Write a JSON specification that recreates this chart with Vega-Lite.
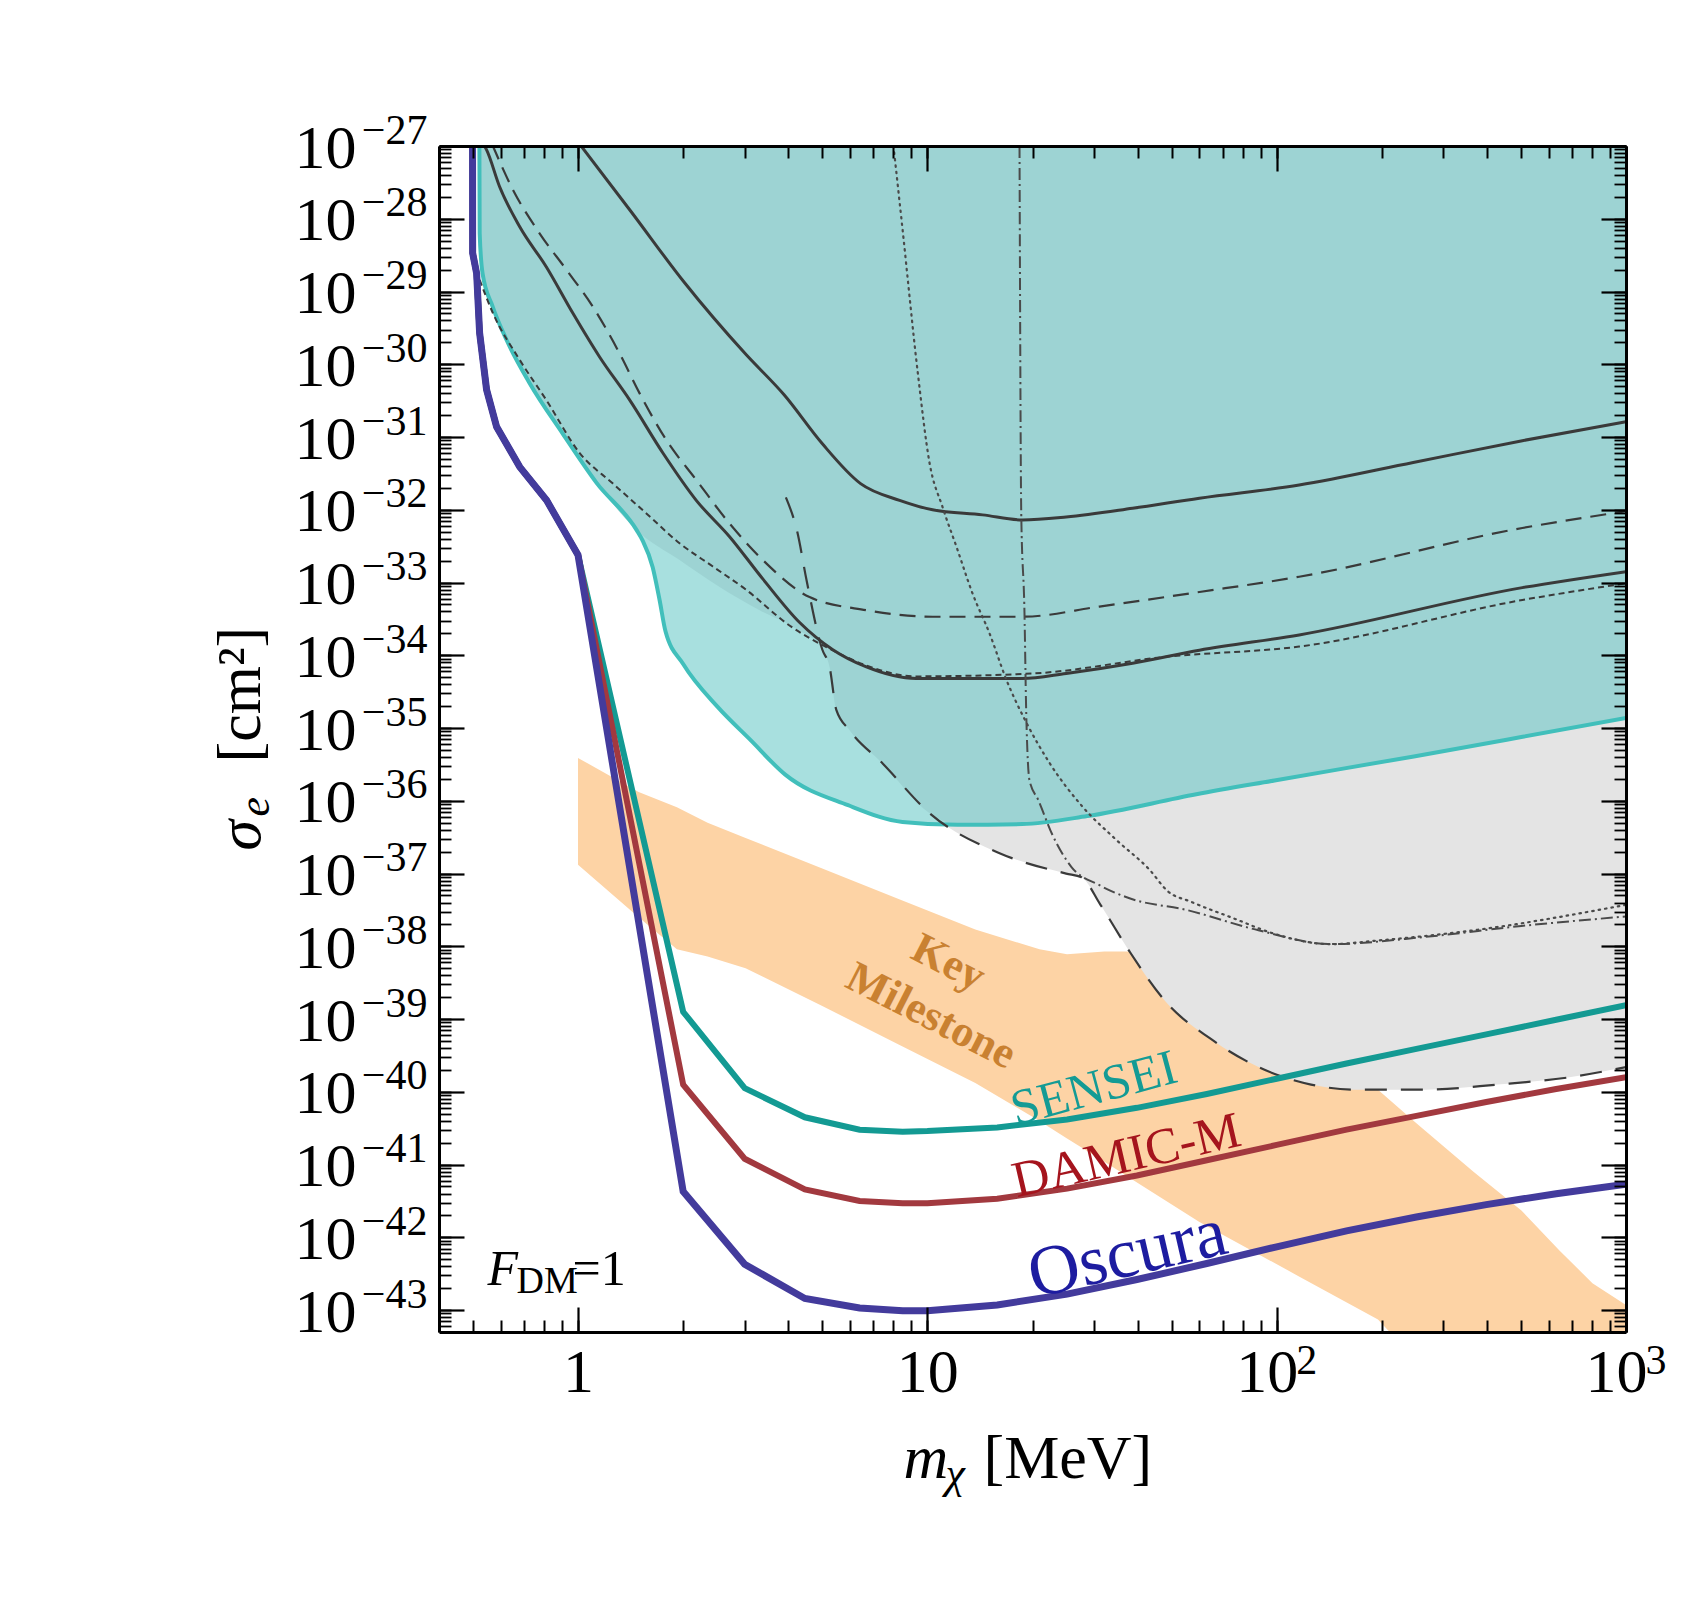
{
"$schema":"https://vega.github.io/schema/vega-lite/v6.json",
"width":1187,"height":1186,
"autosize":{"type":"none"},
"padding":{"left":439,"top":146,"right":80,"bottom":280},
"background":"#ffffff",
"config":{"view":{"stroke":null},"axis":{"grid":false,"labelFont":"Liberation Serif","titleFont":"Liberation Serif","labelColor":"#000000","titleColor":"#000000","tickColor":"#000000","domainColor":"#000000","titleFontWeight":"normal","labelFlush":false,"labelOverlap":false}},
"resolve":{"axis":{"x":"independent","y":"independent"}},
"datasets":{
"band":[{"m":1.0,"lo":1.318e-37,"hi":3.89e-36},{"m":1.491,"lo":2.512e-38,"hi":1.318e-36},{"m":1.919,"lo":9.12e-39,"hi":8.128e-37},{"m":2.349,"lo":7.244e-39,"hi":5.012e-37},{"m":3.018,"lo":5.012e-39,"hi":3.09e-37},{"m":5.003,"lo":1.514e-39,"hi":1.175e-37},{"m":8.274,"lo":4.467e-40,"hi":4.467e-38},{"m":13.72,"lo":1.318e-40,"hi":1.698e-38},{"m":20.95,"lo":3.981e-41,"hi":9.12e-39},{"m":25.11,"lo":2.291e-41,"hi":7.762e-39},{"m":32.15,"lo":1.096e-41,"hi":8.511e-39},{"m":37.9,"lo":6.607e-42,"hi":8.511e-39},{"m":60.1,"lo":1.622e-42,"hi":2.455e-39},{"m":116.2,"lo":2.884e-43,"hi":4.169e-40},{"m":195.0,"lo":7.413e-44,"hi":1.072e-40},{"m":250.7,"lo":2.042e-44,"hi":3.715e-41},{"m":365.9,"lo":3.162e-45,"hi":7.943e-42},{"m":501.9,"lo":1e-45,"hi":2.344e-42},{"m":644.9,"lo":1e-45,"hi":6.607e-43},{"m":801.5,"lo":1e-45,"hi":2.344e-43},{"m":1000,"lo":1e-45,"hi":1.175e-43}],
"cyan":[{"m":0.522,"sigma":1e-27},{"m":0.523,"sigma":6.31e-29},{"m":0.533,"sigma":1.778e-29},{"m":0.57,"sigma":6.166e-30},{"m":0.625,"sigma":2.138e-30},{"m":0.727,"sigma":5.495e-31},{"m":0.903,"sigma":1.122e-31},{"m":1.13,"sigma":2.344e-32},{"m":1.472,"sigma":5.248e-33},{"m":1.53,"sigma":3.802e-33},{"m":1.636,"sigma":1.622e-33},{"m":1.712,"sigma":5.754e-34},{"m":1.78,"sigma":2.138e-34},{"m":2.0,"sigma":7.586e-35},{"m":2.51,"sigma":1.95e-35},{"m":3.11,"sigma":6.918e-36},{"m":3.92,"sigma":2.291e-36},{"m":5.93,"sigma":8.71e-37},{"m":8.49,"sigma":5.129e-37},{"m":12.2,"sigma":4.677e-37},{"m":18.7,"sigma":4.786e-37},{"m":28.7,"sigma":6.166e-37},{"m":58.9,"sigma":1.23e-36},{"m":98.6,"sigma":1.905e-36},{"m":247,"sigma":4.074e-36},{"m":506,"sigma":7.586e-36},{"m":1000,"sigma":1.38e-35}],
"dark":[{"m":0.523,"sigma":6.31e-29},{"m":0.533,"sigma":1.778e-29},{"m":0.57,"sigma":6.166e-30},{"m":0.625,"sigma":2.138e-30},{"m":0.727,"sigma":5.495e-31},{"m":0.903,"sigma":1.122e-31},{"m":1.13,"sigma":2.344e-32},{"m":1.472,"sigma":5.248e-33},{"m":1.953,"sigma":2.042e-33},{"m":2.543,"sigma":8.71e-34},{"m":3.31,"sigma":4.169e-34},{"m":4.196,"sigma":2.344e-34},{"m":5.003,"sigma":1.202e-34},{"m":5.25,"sigma":6.918e-35},{"m":5.488,"sigma":1.778e-35},{"m":5.99,"sigma":9.333e-36},{"m":7.46,"sigma":3.236e-36},{"m":10.15,"sigma":6.761e-37},{"m":12.2,"sigma":4.677e-37},{"m":18.7,"sigma":4.786e-37},{"m":28.7,"sigma":6.166e-37},{"m":58.9,"sigma":1.23e-36},{"m":98.6,"sigma":1.905e-36},{"m":247,"sigma":4.074e-36},{"m":506,"sigma":7.586e-36},{"m":1000,"sigma":1.38e-35}],
"l1":[{"m":0.985,"sigma":1.25e-27},{"m":1.418,"sigma":1.259e-28},{"m":2.019,"sigma":1.318e-29},{"m":3.018,"sigma":1.38e-30},{"m":3.89,"sigma":3.802e-31},{"m":5.0,"sigma":8.128e-32},{"m":6.44,"sigma":2.291e-32},{"m":8.33,"sigma":1.349e-32},{"m":10.35,"sigma":1e-32},{"m":14.39,"sigma":8.511e-33},{"m":18.72,"sigma":7.244e-33},{"m":24.97,"sigma":7.943e-33},{"m":38.7,"sigma":1.047e-32},{"m":60.1,"sigma":1.445e-32},{"m":116,"sigma":2.188e-32},{"m":246,"sigma":4.467e-32},{"m":505,"sigma":8.913e-32},{"m":1000,"sigma":1.622e-31}],
"l2":[{"m":0.54,"sigma":1e-27},{"m":0.547,"sigma":8.913e-28},{"m":0.5965,"sigma":2.754e-28},{"m":0.681,"sigma":7.762e-29},{"m":0.811,"sigma":2.188e-29},{"m":0.967,"sigma":5.012e-30},{"m":1.153,"sigma":1.259e-30},{"m":1.405,"sigma":3.236e-31},{"m":1.75,"sigma":6.026e-32},{"m":2.18,"sigma":1.349e-32},{"m":2.716,"sigma":4.266e-33},{"m":3.38,"sigma":1.122e-33},{"m":4.31,"sigma":2.818e-34},{"m":5.35,"sigma":1.202e-34},{"m":6.69,"sigma":6.918e-35},{"m":9.29,"sigma":4.786e-35},{"m":18.73,"sigma":4.786e-35},{"m":24.97,"sigma":5.623e-35},{"m":38.7,"sigma":7.762e-35},{"m":60.1,"sigma":1.175e-34},{"m":116,"sigma":1.905e-34},{"m":505,"sigma":8.511e-34},{"m":1000,"sigma":1.413e-33}],
"l3":[{"m":0.568,"sigma":1.05e-27},{"m":0.651,"sigma":2.512e-28},{"m":0.776,"sigma":6.31e-29},{"m":0.926,"sigma":1.995e-29},{"m":1.103,"sigma":6.166e-30},{"m":1.315,"sigma":1.413e-30},{"m":1.501,"sigma":3.981e-31},{"m":1.789,"sigma":9.12e-32},{"m":2.181,"sigma":2.57e-32},{"m":2.716,"sigma":6.457e-33},{"m":3.38,"sigma":2.042e-33},{"m":4.6,"sigma":6.31e-34},{"m":6.69,"sigma":4.169e-34},{"m":10.35,"sigma":3.388e-34},{"m":18.73,"sigma":3.388e-34},{"m":31.1,"sigma":4.677e-34},{"m":60.1,"sigma":7.413e-34},{"m":116,"sigma":1.202e-33},{"m":505,"sigma":5.623e-33},{"m":1000,"sigma":9.55e-33}],
"l4":[{"m":0.523,"sigma":1.445e-29},{"m":0.571,"sigma":5.012e-30},{"m":0.681,"sigma":1.148e-30},{"m":0.811,"sigma":3.236e-31},{"m":1.011,"sigma":6.026e-32},{"m":1.259,"sigma":2.291e-32},{"m":1.569,"sigma":8.913e-33},{"m":1.953,"sigma":3.467e-33},{"m":2.433,"sigma":1.66e-33},{"m":3.03,"sigma":7.943e-34},{"m":4.03,"sigma":2.57e-34},{"m":5.35,"sigma":1.175e-34},{"m":6.69,"sigma":7.244e-35},{"m":9.29,"sigma":5.129e-35},{"m":20.0,"sigma":5.623e-35},{"m":48.3,"sigma":9.55e-35},{"m":116,"sigma":1.318e-34},{"m":505,"sigma":5.754e-34},{"m":1000,"sigma":9.772e-34}],
"l5":[{"m":8.0,"sigma":1e-27},{"m":8.49,"sigma":7.244e-29},{"m":9.37,"sigma":8.318e-31},{"m":10.15,"sigma":4.365e-32},{"m":11.05,"sigma":1.096e-32},{"m":12.12,"sigma":3.09e-33},{"m":13.47,"sigma":7.079e-34},{"m":15.07,"sigma":1.995e-34},{"m":16.85,"sigma":4.571e-35},{"m":19.23,"sigma":1.175e-35},{"m":22.38,"sigma":3.311e-36},{"m":27.8,"sigma":8.318e-37},{"m":34.8,"sigma":2.884e-37},{"m":43.3,"sigma":1.122e-37},{"m":48.7,"sigma":5.754e-38},{"m":57.0,"sigma":4.074e-38},{"m":75.7,"sigma":2.399e-38},{"m":97.3,"sigma":1.514e-38},{"m":142.6,"sigma":1.072e-38},{"m":195,"sigma":1.202e-38},{"m":366,"sigma":1.66e-38},{"m":1000,"sigma":3.715e-38}],
"l6":[{"m":18.36,"sigma":1e-27},{"m":18.57,"sigma":8.913e-33},{"m":18.97,"sigma":3.802e-34},{"m":19.19,"sigma":1.622e-35},{"m":19.61,"sigma":1.905e-36},{"m":20.78,"sigma":1.023e-36},{"m":22.82,"sigma":3.388e-37},{"m":25.86,"sigma":1.23e-37},{"m":31.1,"sigma":6.918e-38},{"m":37.9,"sigma":4.571e-38},{"m":55.2,"sigma":3.162e-38},{"m":88.7,"sigma":1.66e-38},{"m":142.6,"sigma":1.072e-38},{"m":267,"sigma":1.349e-38},{"m":502,"sigma":1.905e-38},{"m":1000,"sigma":2.57e-38}],
"l7":[{"m":3.936,"sigma":1.479e-32},{"m":4.246,"sigma":4.898e-33},{"m":4.511,"sigma":1.072e-33},{"m":5.003,"sigma":1.202e-34},{"m":5.25,"sigma":6.918e-35},{"m":5.488,"sigma":1.778e-35},{"m":5.99,"sigma":9.333e-36},{"m":7.46,"sigma":3.236e-36},{"m":10.15,"sigma":6.761e-37},{"m":16.1,"sigma":1.905e-37},{"m":24.97,"sigma":1e-37},{"m":27.63,"sigma":8.913e-38},{"m":31.31,"sigma":3.715e-38},{"m":37.9,"sigma":8.511e-39},{"m":48.7,"sigma":1.622e-39},{"m":64.65,"sigma":5.37e-40},{"m":88.7,"sigma":2.188e-40},{"m":125.4,"sigma":1.259e-40},{"m":166.4,"sigma":1.072e-40},{"m":266.7,"sigma":1.072e-40},{"m":428.6,"sigma":1.259e-40},{"m":688.7,"sigma":1.585e-40},{"m":1000,"sigma":2.188e-40}],
"sensei":[{"m":0.499,"sigma":1.5e-27},{"m":0.4993,"sigma":3.388e-29},{"m":0.5126,"sigma":1.778e-29},{"m":0.5228,"sigma":2.692e-30},{"m":0.5474,"sigma":4.467e-31},{"m":0.5848,"sigma":1.38e-31},{"m":0.6807,"sigma":3.89e-32},{"m":0.813,"sigma":1.349e-32},{"m":1.0,"sigma":2.399e-33},{"m":2.0,"sigma":1.259e-39},{"m":3.0,"sigma":1.122e-40},{"m":4.46,"sigma":4.467e-41},{"m":6.4,"sigma":3.02e-41},{"m":8.5,"sigma":2.818e-41},{"m":10.0,"sigma":2.884e-41},{"m":15.85,"sigma":3.236e-41},{"m":25.12,"sigma":4.169e-41},{"m":39.81,"sigma":6.026e-41},{"m":63.1,"sigma":9.333e-41},{"m":100,"sigma":1.514e-40},{"m":158.5,"sigma":2.455e-40},{"m":251.2,"sigma":3.89e-40},{"m":398.1,"sigma":6.166e-40},{"m":631,"sigma":9.772e-40},{"m":1000,"sigma":1.549e-39}],
"damic":[{"m":0.499,"sigma":1.5e-27},{"m":0.4993,"sigma":3.388e-29},{"m":0.5126,"sigma":1.778e-29},{"m":0.5228,"sigma":2.692e-30},{"m":0.5474,"sigma":4.467e-31},{"m":0.5848,"sigma":1.38e-31},{"m":0.6807,"sigma":3.89e-32},{"m":0.813,"sigma":1.349e-32},{"m":1.0,"sigma":2.399e-33},{"m":2.0,"sigma":1.259e-40},{"m":3.0,"sigma":1.202e-41},{"m":4.46,"sigma":4.571e-42},{"m":6.4,"sigma":3.162e-42},{"m":8.5,"sigma":2.951e-42},{"m":10.0,"sigma":2.951e-42},{"m":15.85,"sigma":3.388e-42},{"m":25.12,"sigma":4.677e-42},{"m":39.81,"sigma":7.079e-42},{"m":63.1,"sigma":1.148e-41},{"m":100,"sigma":1.862e-41},{"m":158.5,"sigma":3.02e-41},{"m":251.2,"sigma":4.677e-41},{"m":398.1,"sigma":7.244e-41},{"m":631,"sigma":1.096e-40},{"m":1000,"sigma":1.585e-40}],
"oscura":[{"m":0.499,"sigma":1.5e-27},{"m":0.4993,"sigma":3.388e-29},{"m":0.5126,"sigma":1.778e-29},{"m":0.5228,"sigma":2.692e-30},{"m":0.5474,"sigma":4.467e-31},{"m":0.5848,"sigma":1.38e-31},{"m":0.6807,"sigma":3.89e-32},{"m":0.813,"sigma":1.349e-32},{"m":1.0,"sigma":2.399e-33},{"m":2.0,"sigma":4.266e-42},{"m":3.0,"sigma":4.266e-43},{"m":4.46,"sigma":1.445e-43},{"m":6.4,"sigma":1.072e-43},{"m":8.5,"sigma":9.772e-44},{"m":10.0,"sigma":9.772e-44},{"m":15.85,"sigma":1.175e-43},{"m":25.12,"sigma":1.66e-43},{"m":39.81,"sigma":2.63e-43},{"m":63.1,"sigma":4.365e-43},{"m":100,"sigma":7.413e-43},{"m":158.5,"sigma":1.23e-42},{"m":251.2,"sigma":1.905e-42},{"m":398.1,"sigma":2.818e-42},{"m":631,"sigma":3.981e-42},{"m":1000,"sigma":5.37e-42}]
},
"layer":[
{"data":{"name":"band"},"mark":{"type":"area","color":"#fdd3a5","clip":true,"interpolate":"linear"},
"encoding":{"x":{"field":"m","type":"quantitative","scale":{"type":"log","domain":[0.4,1000],"nice":false},
"axis":{"orient":"bottom","values":[1,10],"labelExpr":"datum.value == 1 ? '1' : '10'","ticks":false,"domain":false,"labelFontSize":62,"labelPadding":10,"labelAngle":0,"labelAlign":"center","labelBaseline":"top","title":"m","titleFontSize":62,"titleFontStyle":"italic","titleX":464,"titleY":145,"titleAlign":"left","titleBaseline":"alphabetic","titleAngle":0,"zindex":1}},
"y":{"field":"lo","type":"quantitative","scale":{"type":"log","domain":[5e-44,1e-27],"nice":false},
"axis":{"orient":"left","values":[1e-27,1e-28,1e-29,1e-30,1e-31,1e-32,1e-33,1e-34,1e-35,1e-36,1e-37,1e-38,1e-39,1e-40,1e-41,1e-42,1e-43],"labelExpr":"'10'","ticks":false,"domain":false,"labelFontSize":62,"labelPadding":83,"labelAlign":"right","labelBaseline":"middle","labelOffset":2,"title":"σ","titleFontSize":62,"titleFontStyle":"italic","titleAngle":270,"titleX":-180,"titleY":704,"titleAlign":"left","titleBaseline":"alphabetic","zindex":1}},
"y2":{"field":"hi"}}},
{"data":{"name":"l7"},"mark":{"type":"area","color":"#e4e4e4","clip":true,"interpolate":"monotone"},
"encoding":{"x":{"field":"m","type":"quantitative","scale":{"type":"log","domain":[0.4,1000],"nice":false},
"axis":{"orient":"bottom","values":[100,1000],"labelExpr":"'10'","ticks":false,"domain":false,"labelFontSize":62,"labelPadding":10,"labelAngle":0,"labelAlign":"center","labelBaseline":"top","labelOffset":-10,"title":"[MeV]","titleFontSize":62,"titleX":544,"titleY":145,"titleAlign":"left","titleBaseline":"alphabetic","titleAngle":0,"zindex":1}},
"y":{"field":"sigma","type":"quantitative","scale":{"type":"log","domain":[5e-44,1e-27],"nice":false},
"axis":{"orient":"left","values":[1e-27,1e-28,1e-29,1e-30,1e-31,1e-32,1e-33,1e-34,1e-35,1e-36,1e-37,1e-38,1e-39,1e-40,1e-41,1e-42,1e-43],"labelExpr":"'−' + round(-log(datum.value)/LN10)","ticks":false,"domain":false,"labelFontSize":42,"labelPadding":12,"labelAlign":"right","labelBaseline":"middle","labelOffset":-16,"title":"e","titleFontSize":44,"titleFontStyle":"italic","titleAngle":270,"titleX":-171,"titleY":670,"titleAlign":"left","titleBaseline":"alphabetic","zindex":1}},
"y2":{"datum":1e-27}}},
{"data":{"name":"cyan"},"mark":{"type":"area","color":"#a8e0df","clip":true,"interpolate":"monotone"},
"encoding":{"x":{"field":"m","type":"quantitative","scale":{"type":"log","domain":[0.4,1000],"nice":false},
"axis":{"orient":"bottom","values":[100,1000],"labelExpr":"datum.value > 500 ? '3' : '2'","ticks":false,"domain":false,"labelFontSize":42,"labelPadding":8,"labelAngle":0,"labelAlign":"left","labelBaseline":"top","labelOffset":19,"title":"χ","titleFontSize":44,"titleFontStyle":"italic","titleX":506,"titleY":155,"titleAlign":"left","titleBaseline":"alphabetic","titleAngle":0,"zindex":1}},
"y":{"field":"sigma","type":"quantitative","scale":{"type":"log","domain":[5e-44,1e-27],"nice":false},
"axis":{"orient":"left","values":[1e-27,1e-28,1e-29,1e-30,1e-31,1e-32,1e-33,1e-34,1e-35,1e-36,1e-37,1e-38,1e-39,1e-40,1e-41,1e-42,1e-43],"labels":false,"tickSize":-25,"tickWidth":2.2,"domain":true,"domainWidth":3,"title":"[cm²]","titleFontSize":62,"titleAngle":270,"titleX":-180,"titleY":616,"titleAlign":"left","titleBaseline":"alphabetic","zindex":2}},
"y2":{"datum":1e-27}}},
{"data":{"name":"dark"},"mark":{"type":"area","color":"#9dd3d3","clip":true,"interpolate":"monotone"},
"encoding":{"x":{"field":"m","type":"quantitative","scale":{"type":"log","domain":[0.4,1000],"nice":false},
"axis":{"orient":"bottom","values":[1,10,100,1000],"labels":false,"tickSize":-25,"tickWidth":2.2,"domain":true,"domainWidth":3,"title":null,"zindex":2}},
"y":{"field":"sigma","type":"quantitative","scale":{"type":"log","domain":[5e-44,1e-27],"nice":false},
"axis":{"orient":"left","tickCount":60,"labels":false,"tickSize":-12,"tickWidth":1.8,"domain":false,"title":null,"zindex":2}},
"y2":{"datum":1e-27}}},
{"data":{"name":"cyan"},"mark":{"type":"line","color":"#41bfbb","strokeWidth":4,"clip":true,"interpolate":"monotone"},
"encoding":{"x":{"field":"m","type":"quantitative","scale":{"type":"log","domain":[0.4,1000],"nice":false},
"axis":{"orient":"bottom","tickCount":50,"labels":false,"tickSize":-12,"tickWidth":2,"domain":false,"title":null,"zindex":2}},
"y":{"field":"sigma","type":"quantitative","scale":{"type":"log","domain":[5e-44,1e-27],"nice":false},
"axis":{"orient":"right","values":[1e-27,1e-28,1e-29,1e-30,1e-31,1e-32,1e-33,1e-34,1e-35,1e-36,1e-37,1e-38,1e-39,1e-40,1e-41,1e-42,1e-43],"labels":false,"tickSize":-25,"tickWidth":2.2,"domain":true,"domainWidth":3,"title":null,"zindex":2}}}},
{"data":{"name":"l1"},"mark":{"type":"line","color":"#3a3a3a","strokeWidth":3,"clip":true,"interpolate":"monotone"},
"encoding":{"x":{"field":"m","type":"quantitative","scale":{"type":"log","domain":[0.4,1000],"nice":false},
"axis":{"orient":"top","values":[1,10,100,1000],"labels":false,"tickSize":-25,"tickWidth":2.2,"domain":true,"domainWidth":3,"title":null,"zindex":2}},
"y":{"field":"sigma","type":"quantitative","scale":{"type":"log","domain":[5e-44,1e-27],"nice":false},
"axis":{"orient":"right","tickCount":60,"labels":false,"tickSize":-12,"tickWidth":1.8,"domain":false,"title":null,"zindex":2}}}},
{"data":{"name":"l2"},"mark":{"type":"line","color":"#3a3a3a","strokeWidth":3,"clip":true,"interpolate":"monotone"},
"encoding":{"x":{"field":"m","type":"quantitative","scale":{"type":"log","domain":[0.4,1000],"nice":false},
"axis":{"orient":"top","tickCount":50,"labels":false,"tickSize":-12,"tickWidth":2,"domain":false,"title":null,"zindex":2}},
"y":{"field":"sigma","type":"quantitative","scale":{"type":"log","domain":[5e-44,1e-27],"nice":false},"axis":null}}},
{"data":{"name":"l3"},"mark":{"type":"line","color":"#3a3a3a","strokeWidth":2.2,"strokeDash":[16,9],"clip":true,"interpolate":"monotone"},
"encoding":{"x":{"field":"m","type":"quantitative","scale":{"type":"log","domain":[0.4,1000],"nice":false},"axis":null},
"y":{"field":"sigma","type":"quantitative","scale":{"type":"log","domain":[5e-44,1e-27],"nice":false},"axis":null}}},
{"data":{"name":"l4"},"mark":{"type":"line","color":"#3a3a3a","strokeWidth":2,"strokeDash":[6,4],"clip":true,"interpolate":"monotone"},
"encoding":{"x":{"field":"m","type":"quantitative","scale":{"type":"log","domain":[0.4,1000],"nice":false},"axis":null},
"y":{"field":"sigma","type":"quantitative","scale":{"type":"log","domain":[5e-44,1e-27],"nice":false},"axis":null}}},
{"data":{"name":"l5"},"mark":{"type":"line","color":"#4a4a4a","strokeWidth":2.2,"strokeDash":[1.5,5],"strokeCap":"round","clip":true,"interpolate":"monotone"},
"encoding":{"x":{"field":"m","type":"quantitative","scale":{"type":"log","domain":[0.4,1000],"nice":false},"axis":null},
"y":{"field":"sigma","type":"quantitative","scale":{"type":"log","domain":[5e-44,1e-27],"nice":false},"axis":null}}},
{"data":{"name":"l6"},"mark":{"type":"line","color":"#4a4a4a","strokeWidth":2,"strokeDash":[12,4,2,4],"clip":true,"interpolate":"monotone"},
"encoding":{"x":{"field":"m","type":"quantitative","scale":{"type":"log","domain":[0.4,1000],"nice":false},"axis":null},
"y":{"field":"sigma","type":"quantitative","scale":{"type":"log","domain":[5e-44,1e-27],"nice":false},"axis":null}}},
{"data":{"name":"l7"},"mark":{"type":"line","color":"#3a3a3a","strokeWidth":2.2,"strokeDash":[22,14],"clip":true,"interpolate":"monotone"},
"encoding":{"x":{"field":"m","type":"quantitative","scale":{"type":"log","domain":[0.4,1000],"nice":false},"axis":null},
"y":{"field":"sigma","type":"quantitative","scale":{"type":"log","domain":[5e-44,1e-27],"nice":false},"axis":null}}},
{"data":{"name":"sensei"},"mark":{"type":"line","color":"#139a93","strokeWidth":6,"clip":true,"interpolate":"linear"},
"encoding":{"x":{"field":"m","type":"quantitative","scale":{"type":"log","domain":[0.4,1000],"nice":false},"axis":null},
"y":{"field":"sigma","type":"quantitative","scale":{"type":"log","domain":[5e-44,1e-27],"nice":false},"axis":null}}},
{"data":{"name":"damic"},"mark":{"type":"line","color":"#a2393f","strokeWidth":6,"clip":true,"interpolate":"linear"},
"encoding":{"x":{"field":"m","type":"quantitative","scale":{"type":"log","domain":[0.4,1000],"nice":false},"axis":null},
"y":{"field":"sigma","type":"quantitative","scale":{"type":"log","domain":[5e-44,1e-27],"nice":false},"axis":null}}},
{"data":{"name":"oscura"},"mark":{"type":"line","color":"#433b9c","strokeWidth":7,"clip":true,"interpolate":"linear"},
"encoding":{"x":{"field":"m","type":"quantitative","scale":{"type":"log","domain":[0.4,1000],"nice":false},"axis":null},
"y":{"field":"sigma","type":"quantitative","scale":{"type":"log","domain":[5e-44,1e-27],"nice":false},"axis":null}}},
{"data":{"values":[{"m":11.48,"sigma":5.888e-39,"label":"Key"},{"m":10.23,"sigma":1.096e-39,"label":"Milestone"}]},
"mark":{"type":"text","font":"Liberation Serif","fontSize":44,"fontWeight":"bold","angle":27,"color":"#c98131","align":"center","baseline":"middle"},
"encoding":{"x":{"field":"m","type":"quantitative","scale":{"type":"log","domain":[0.4,1000],"nice":false},"axis":null},
"y":{"field":"sigma","type":"quantitative","scale":{"type":"log","domain":[5e-44,1e-27],"nice":false},"axis":null},"text":{"field":"label"}}},
{"data":{"values":[{"m":30.0,"sigma":1.096e-40,"label":"SENSEI"}]},
"mark":{"type":"text","font":"Liberation Serif","fontSize":50,"angle":-15,"color":"#149b95","align":"center","baseline":"middle"},
"encoding":{"x":{"field":"m","type":"quantitative","scale":{"type":"log","domain":[0.4,1000],"nice":false},"axis":null},
"y":{"field":"sigma","type":"quantitative","scale":{"type":"log","domain":[5e-44,1e-27],"nice":false},"axis":null},"text":{"field":"label"}}},
{"data":{"values":[{"m":37.2,"sigma":1.288e-41,"label":"DAMIC-M"}]},
"mark":{"type":"text","font":"Liberation Serif","fontSize":51,"angle":-13,"color":"#a5141d","align":"center","baseline":"middle"},
"encoding":{"x":{"field":"m","type":"quantitative","scale":{"type":"log","domain":[0.4,1000],"nice":false},"axis":null},
"y":{"field":"sigma","type":"quantitative","scale":{"type":"log","domain":[5e-44,1e-27],"nice":false},"axis":null},"text":{"field":"label"}}},
{"data":{"values":[{"m":37.4,"sigma":5.754e-43,"label":"Oscura"}]},
"mark":{"type":"text","font":"Liberation Serif","fontSize":71,"angle":-13,"color":"#1d1ca0","align":"center","baseline":"middle"},
"encoding":{"x":{"field":"m","type":"quantitative","scale":{"type":"log","domain":[0.4,1000],"nice":false},"axis":null},
"y":{"field":"sigma","type":"quantitative","scale":{"type":"log","domain":[5e-44,1e-27],"nice":false},"axis":null},"text":{"field":"label"}}},
{"data":{"values":[{"m":0.551,"sigma":2.188e-43,"label":"F"}]},
"mark":{"type":"text","font":"Liberation Serif","fontSize":50,"fontStyle":"italic","color":"#000000","align":"left","baseline":"alphabetic"},
"encoding":{"x":{"field":"m","type":"quantitative","scale":{"type":"log","domain":[0.4,1000],"nice":false},"axis":null},
"y":{"field":"sigma","type":"quantitative","scale":{"type":"log","domain":[5e-44,1e-27],"nice":false},"axis":null},"text":{"field":"label"}}},
{"data":{"values":[{"m":0.551,"sigma":2.188e-43,"label":"DM"}]},
"mark":{"type":"text","font":"Liberation Serif","fontSize":38,"dx":29,"dy":8,"color":"#000000","align":"left","baseline":"alphabetic"},
"encoding":{"x":{"field":"m","type":"quantitative","scale":{"type":"log","domain":[0.4,1000],"nice":false},"axis":null},
"y":{"field":"sigma","type":"quantitative","scale":{"type":"log","domain":[5e-44,1e-27],"nice":false},"axis":null},"text":{"field":"label"}}},
{"data":{"values":[{"m":0.551,"sigma":2.188e-43,"label":"=1"}]},
"mark":{"type":"text","font":"Liberation Serif","fontSize":50,"dx":85,"color":"#000000","align":"left","baseline":"alphabetic"},
"encoding":{"x":{"field":"m","type":"quantitative","scale":{"type":"log","domain":[0.4,1000],"nice":false},"axis":null},
"y":{"field":"sigma","type":"quantitative","scale":{"type":"log","domain":[5e-44,1e-27],"nice":false},"axis":null},"text":{"field":"label"}}}
]
}
